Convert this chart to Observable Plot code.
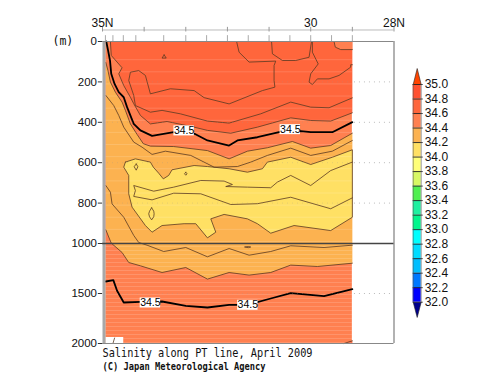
<!DOCTYPE html>
<html><head><meta charset="utf-8">
<script src="https://cdn.jsdelivr.net/npm/d3@7"></script>
<script src="https://cdn.jsdelivr.net/npm/@observablehq/plot@0.6"></script>
<style>
html,body{margin:0;padding:0;background:#fff}
#chart{position:relative;width:500px;height:387px;overflow:hidden}
#chart svg{position:absolute;left:0;top:0;background:transparent}
</style></head><body><div id="chart"></div>
<script>
// Depth axis and latitude axis
const depthTicks = [0,200,400,600,800,1000,1500,2000];
const gridDepths = [200,400,600,800,1500];
const latMajor = [35,34,33,32,31,30,29,28];
const latLabels = [[35,"35N"],[30,"30"],[28,"28N"]];
const stations = [34.93,34.75,34.5,34.2,33.53,33,32.5,32,31.5,31,30.5,30,29.5,29];
const stripesUpper = [90,150,210,270,330,390,450,510,570,630,690,750,810,870,930,990];
const stripesLower = [1030,1070,1110,1150,1190,1230,1270,1310,1350,1390,1430,1470,1510,1550,1590,1630,1670,1710,1750,1790,1830,1870,1910,1950,1990];

// Contours, as [latitude, depth] pairs
const c34_5upper = [[34.91,0],[34.87,40],[34.82,94],[34.79,160],[34.71,210],[34.61,251],[34.49,276],[34.41,325],[34.25,408],[34.09,440],[33.81,467],[33.29,449],[32.79,457],[32.48,490],[31.96,515],[31.76,490],[31.28,474],[30.76,449],[30.24,444],[30,449],[29.48,449],[29,399]];
const c34_5lower = [[34.92,1380],[34.74,1366],[34.65,1473],[34.49,1590],[34.09,1583],[33.57,1580],[33,1623],[32.48,1640],[31.96,1613],[31.52,1613],[30.96,1550],[30.48,1496],[29.68,1526],[29,1456]];
const c34_6 = [[34.81,0],[34.79,69],[34.53,130],[34.61,160],[34.49,218],[34.33,276],[34.25,308],[34.09,366],[33.85,408],[33.45,396],[32.8,424],[32.48,440],[31.92,454],[31.28,424],[30.48,378],[30,391],[29.52,394],[29,353]];
const c34_6patch = [[29.44,0],[29.41,28],[29.28,40],[29,40]];
const c34_6corner = [[29.2,2000],[29,1973]];
const c34_7core = [[31.78,0],[31.72,53],[31.48,102],[30.84,97],[30.88,119],[30.88,193],[30.86,226],[31.16,243],[31.96,309],[32.56,278],[32.8,243],[33.37,234],[33.85,259],[33.97,168],[34.13,144],[34.33,152],[34.37,193],[34.25,267],[34.21,317],[33.85,350],[33.57,341],[33.13,358],[32.48,394],[31.96,404],[31.2,358],[30.48,300],[30,325],[29.56,328],[29,279]];
const c34_7b = [[30.94,0],[30.92,61],[30.68,94],[30.36,94],[30.04,78],[29.98,0]];
const c34_7c = [[29.96,0],[29.96,53],[29.82,111],[30,160],[30.04,201],[29.96,213],[29.84,185],[29.56,185],[29.32,168],[29.04,127],[29.04,115],[29,115]];
const c34_7dot = [[33.52,66],[33.47,82],[33.57,82],[33.52,66]];
const c34_4upper = [[34.92,104],[34.87,143],[34.81,201],[34.69,251],[34.53,300],[34.45,341],[34.33,408],[34.17,460],[34.02,506],[33.85,518],[33.29,520],[32.48,540],[31.96,581],[31.52,543],[31.04,526],[30.44,495],[30,528],[29.52,515],[29,454]];
const c34_4lower = [[34.92,932],[34.85,968],[34.79,998],[34.53,1090],[34.37,1190],[34.09,1223],[33.57,1290],[33,1240],[32.48,1356],[31.96,1290],[31.48,1316],[30.96,1290],[30.48,1216],[29.84,1230],[29,1197]];
const c34_3upper = [[34.92,267],[34.73,317],[34.61,366],[34.49,424],[34.25,498],[34.05,523],[33.81,559],[33.49,543],[32.88,564],[32.32,622],[31.76,619],[31.44,597],[31.04,564],[30.48,528],[30,564],[29.48,543],[29,490]];
const c34_3lower = [[34.92,713],[34.81,746],[34.77,804],[34.49,870],[34.25,960],[34.13,995],[33.93,1017],[33.53,1080],[33,1040],[32.48,1133],[31.96,1050],[31.48,1117],[30.96,1080],[30.48,1023],[29.68,1040],[29,1017]];
const c34_3dot = [[31.58,1035],[31.5,1030],[31.44,1035],[31.5,1042],[31.58,1035]];
const c34_2 = [[34.45,597],[34.21,581],[33.85,597],[33.78,622],[33.65,652],[33.54,680],[33.41,663],[33.33,635],[32.8,614],[32.48,619],[31.96,630],[31.52,647],[31.16,630],[31.04,597],[30.48,573],[30,609],[29.48,573],[29,536],[29,870],[29.52,936],[30.4,911],[30.96,949],[31.28,902],[31.52,878],[32.08,856],[32.4,878],[32.28,944],[32.48,972],[32.76,902],[33.04,902],[33.57,911],[33.81,944],[33.97,911],[34.29,820],[34.37,754],[34.37,663],[34.49,622],[34.45,597]];
const c34_1 = [[29,597],[29.52,639],[30,713],[30.48,663],[30.8,696],[30.96,724],[31.52,721],[32.04,718],[31.88,708],[32.08,691],[32.64,688],[33.29,721],[33.77,741],[34.25,713],[34.21,738],[34.25,767],[33.81,784],[33.29,751],[32.64,754],[31.92,807],[31.28,803],[30.48,771],[29.52,828],[29,774]];
const loopA = [[34.19,606],[34.15,620],[34.19,637],[34.24,620],[34.19,606]];
const loopB = [[33.82,823],[33.77,840],[33.76,853],[33.77,868],[33.82,883],[33.87,868],[33.89,853],[33.87,840],[33.82,823]];
const loopC = [[33,647],[32.97,655],[33,662],[33.03,655],[33,647]];
const missingLine = [[34.75,2000],[34.71,1945]];
const labels345 = [[33.04,440],[30.49,434],[33.85,1590],[31.51,1613]];

// Colour bar: value breaks, band colours from low to high
const barBreaks = [32,32.2,32.4,32.6,32.8,33,33.2,33.4,33.6,33.8,34,34.2,34.4,34.6,34.8,35];
const barColors = ["#0000ff","#0078ff","#00beff","#00dcff","#00ffff","#00f58c","#1ef0a0","#50f050","#d8f864","#ffff78","#ffe064","#fcb250","#ff8050","#ff663c","#ff5030"];
const barLabels = ["32.0","32.2","32.4","32.6","32.8","33.0","33.2","33.4","33.6","33.8","34.0","34.2","34.4","34.6","34.8","35.0"];
const tipHigh = [[0,35],[0.5,35.22],[1,35]];
const tipLow = [[0,32],[0.5,31.79],[1,32]];

const fillDeep = "#ff8050", fillTop = "#ff663c", fillOrange = "#fcb250", fillYellow = "#ffe064";
const thin = "#5a3a22";
const lat = d => d[0], dep = d => d[1];
// the depth axis is stretched above 1000 m
const warp = d => d <= 1000 ? d * 0.202 : 202 + (d - 1000) * 0.1;
const area = (pts, fill) => Plot.line(pts, {x: lat, y: dep, fill, stroke: "none"});
const contour = (pts, w = 0.8, s = thin) => Plot.line(pts, {x: lat, y: dep, stroke: s, strokeWidth: w});

const main = Plot.plot({
  width: 500, height: 387,
  marginLeft: 102, marginRight: 106, marginTop: 41, marginBottom: 44,
  style: {fontFamily: "Liberation Sans", fontSize: "12px"},
  x: {domain: [35,28], range: [102,393.5], axis: null},
  y: {domain: [0,302], range: [41,343], transform: warp, axis: null},
  marks: [
    // filled bands
    Plot.rect([0], {x1: 34.92, x2: 29, y1: 0, y2: 2000, fill: fillDeep}),
    area([[34.92,0],...c34_6,[29,0]], fillTop),
    area([[34.92,0],[34.92,104],[34.87,143],[34.85,60],[34.91,0]], fillDeep),
    area([...c34_6patch,[29,0]], fillDeep),
    area([...c34_6corner,[29,2000]], fillTop),
    area([...c34_4upper,...[...c34_4lower].reverse()], fillOrange),
    area(c34_2, fillYellow),
    Plot.rect([0], {x1: 34.92, x2: 34.49, y1: 1940, y2: 2000, fill: "white"}),
    // faint horizontal stripes
    Plot.ruleY(stripesUpper, {x1: 34.92, x2: 29, stroke: "white", strokeOpacity: 0.15, strokeWidth: 1}),
    Plot.ruleY(stripesLower, {x1: 34.92, x2: 29, stroke: "white", strokeOpacity: 0.15, strokeWidth: 1}),
    // thin contours
    ...[c34_6,c34_6patch,c34_6corner,c34_7core,c34_7b,c34_7c,c34_7dot,c34_4upper,c34_4lower,c34_3upper,c34_3lower,c34_3dot,c34_2,c34_1,loopA,loopB,loopC,missingLine].map(c => contour(c)),
    // thick 34.5 contours
    contour(c34_5upper, 1.8, "#000"),
    contour(c34_5lower, 1.8, "#000"),
    // dotted grid
    Plot.ruleY(gridDepths, {x1: 35, x2: 29, stroke: "#999", strokeOpacity: 0.25, strokeDasharray: "1,4"}),
    Plot.ruleY(gridDepths, {x1: 28.95, x2: 28, stroke: "#bbb", strokeDasharray: "1,4"}),
    // contour labels on white boxes
    Plot.ruleY(labels345, {y: dep, x1: d => d[0] + 0.245, x2: d => d[0] - 0.245, stroke: "white", strokeWidth: 10}),
    Plot.text(labels345, {x: lat, y: dep, text: () => "34.5", fontSize: 10.5, fill: "black", fontWeight: 500}),
    // frame
    Plot.ruleX([35], {x: d => d, dx: 1.5, y1: 0, y2: 2000, stroke: "#a8a8a8", strokeWidth: 3}),
    Plot.ruleX([28], {x: d => d, y1: 0, y2: 2000, stroke: "#999", strokeWidth: 1.5}),
    Plot.ruleY([0], {x1: 35, x2: 28, stroke: "#888", strokeWidth: 1}),
    Plot.ruleY([2000], {x1: 35, x2: 28, stroke: "#888", strokeWidth: 1}),
    Plot.ruleY([1000], {x1: 35, x2: 28, stroke: "#444", strokeWidth: 1.4}),
    // depth axis
    Plot.ruleY(depthTicks, {x1: 35.1, x2: 35, stroke: "#333", strokeWidth: 1}),
    Plot.text(depthTicks, {x: () => 35, y: d => d, text: d => String(d), dx: -5.5, textAnchor: "end", fontSize: 11.5, fill: "#111"}),
    // top axis
    Plot.ruleY([-57], {x1: 35, x2: 28, stroke: "#bbb", strokeWidth: 1}),
    Plot.ruleX(latMajor, {y1: -70, y2: -47, stroke: "#999", strokeWidth: 1}),
    Plot.ruleX(stations, {y1: -29, y2: 0, stroke: "#aaa", strokeWidth: 1}),
    Plot.text(latLabels, {x: lat, y: () => -92, text: dep, fontSize: 12, fill: "#111"}),
    Plot.text(["(m)"], {x: () => 36, y: () => 0, text: d => d, fontFamily: "DejaVu Sans Mono", fontSize: 11.5, fill: "#111", dx: 2}),
    // captions
    Plot.text(["Salinity along PT line, April 2009"], {x: () => 35, y: () => 2000, dy: 10, text: d => d, textAnchor: "start", fontFamily: "DejaVu Sans Mono", fontSize: 12, fill: "#111", className: "cap1"}),
    Plot.text(["(C) Japan Meteorological Agency"], {x: () => 35, y: () => 2000, dy: 23, text: d => d, textAnchor: "start", fontFamily: "DejaVu Sans Mono", fontWeight: "bold", fontSize: 10, fill: "#111", className: "cap2"})
  ]
});

d3.select(main).select(".cap1 text").attr("textLength", 210).attr("lengthAdjust", "spacingAndGlyphs");
d3.select(main).select(".cap2 text").attr("textLength", 163).attr("lengthAdjust", "spacingAndGlyphs");

const bands = barColors.map((c, i) => ({lo: barBreaks[i], hi: barBreaks[i + 1], c}));
const bar = Plot.plot({
  width: 500, height: 387,
  marginLeft: 412, marginRight: 79, marginTop: 60, marginBottom: 60,
  style: {fontFamily: "Liberation Sans", background: "transparent"},
  x: {domain: [0,1], range: [412.7,420.7], axis: null},
  y: {domain: [32,35], range: [301.7,84], axis: null},
  marks: [
    Plot.rect(bands, {x1: () => 0, x2: () => 1, y1: "lo", y2: "hi", fill: "c"}),
    Plot.line(tipHigh, {x: lat, y: dep, fill: "#ff4500", stroke: "#222", strokeWidth: 0.6}),
    Plot.line(tipLow, {x: lat, y: dep, fill: "#00008b", stroke: "#222", strokeWidth: 0.6}),
    Plot.ruleY(barBreaks, {x1: 0, x2: 1.25, stroke: "#222", strokeWidth: 0.9}),
    Plot.ruleX([0,1], {y1: 32, y2: 35, stroke: "#555", strokeWidth: 0.6}),
    Plot.text(barBreaks, {x: () => 1, y: d => d, dx: 3.5, text: (d, i) => barLabels[i], textAnchor: "start", fontSize: 12, fill: "#111"})
  ]
});
const root = document.getElementById("chart");
root.append(main, bar);
</script></body></html>
